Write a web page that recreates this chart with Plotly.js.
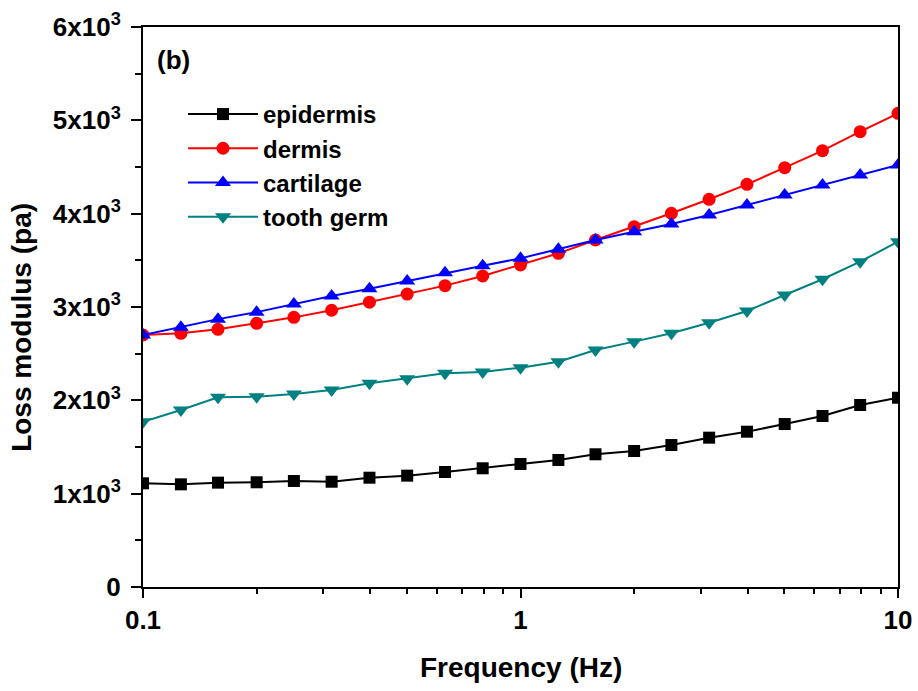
<!DOCTYPE html>
<html>
<head>
<meta charset="utf-8">
<script src="https://cdn.plot.ly/plotly-3.0.1.min.js"></script>
<style>html,body{margin:0;padding:0;background:#fff;}#chart{width:918px;height:691px;}</style>
</head>
<body>
<div id="chart"></div>
<script>
var freq = [0.1, 0.126, 0.158, 0.2, 0.251, 0.316, 0.398, 0.501, 0.631, 0.794, 1, 1.26, 1.58, 2, 2.51, 3.16, 3.98, 5.01, 6.31, 7.94, 10];
var epidermis = [1111, 1100, 1118, 1122, 1136, 1128, 1171, 1193, 1232, 1272, 1318, 1361, 1422, 1457, 1521, 1600, 1664, 1746, 1832, 1950, 2028];
var dermis = [2700, 2718, 2761, 2825, 2889, 2965, 3052, 3139, 3229, 3332, 3450, 3575, 3718, 3861, 4004, 4154, 4314, 4493, 4675, 4879, 5075];
var cartilage = [2700, 2782, 2870, 2945, 3032, 3118, 3196, 3279, 3368, 3443, 3521, 3618, 3718, 3807, 3889, 3986, 4093, 4200, 4307, 4414, 4521];
var toothGerm = [1771, 1896, 2032, 2039, 2068, 2111, 2182, 2232, 2289, 2304, 2350, 2414, 2539, 2629, 2718, 2832, 2957, 3129, 3297, 3486, 3700];

var seriesNames = ["epidermis", "dermis", "cartilage", "tooth germ"];
var yTickVals = [0, 1000, 2000, 3000, 4000, 5000, 6000];
var yTickText = ["0", "1x10<sup>3</sup>", "2x10<sup>3</sup>", "3x10<sup>3</sup>", "4x10<sup>3</sup>", "5x10<sup>3</sup>", "6x10<sup>3</sup>"];
var xTickVals = [0.1, 1, 10];
var xTickText = ["0.1", "1", "10"];
var xTitle = "Frequency (Hz)";
var yTitle = "Loss modulus (pa)";
var panelLabel = "(b)";

var FONT = "Liberation Sans, Arial, Helvetica, sans-serif";

function tr(name, y, color, symbol, size) {
  return {
    x: freq, y: y, name: name, type: "scatter", mode: "lines+markers",
    line: {color: color, width: 2},
    marker: {color: color, symbol: symbol, size: size}
  };
}

var data = [
  tr(seriesNames[0], epidermis, "#000000", "square", 12),
  tr(seriesNames[1], dermis, "#FF0000", "circle", 13),
  tr(seriesNames[2], cartilage, "#0000FF", "triangle-up", 14),
  tr(seriesNames[3], toothGerm, "#008080", "triangle-down", 14)
];

var axisCommon = {
  showline: true, linecolor: "#000", linewidth: 2, mirror: true,
  ticks: "outside", tickcolor: "#000", tickwidth: 2,
  showgrid: false, zeroline: false,
  tickfont: {family: FONT, size: 26, color: "#000", weight: "bold"}
};

var layout = {
  width: 918, height: 691,
  margin: {l: 143, r: 20, t: 27, b: 104},
  paper_bgcolor: "#fff", plot_bgcolor: "#fff",
  showlegend: true,
  font: {family: FONT, color: "#000"},
  xaxis: Object.assign({}, axisCommon, {
    type: "log", range: [-1, 1],
    tickmode: "array", tickvals: xTickVals, ticktext: xTickText,
    ticklen: 9,
    minor: {ticks: "outside", ticklen: 5, tickwidth: 2, tickcolor: "#000", showgrid: false,
            tickvals: [0.2,0.3,0.4,0.5,0.6,0.7,0.8,0.9,2,3,4,5,6,7,8,9]}
  }),
  yaxis: Object.assign({}, axisCommon, {
    range: [0, 6000],
    tickmode: "array", tickvals: yTickVals, ticktext: yTickText,
    ticklen: 10, ticklabelstandoff: 5,
    minor: {ticks: "outside", ticklen: 6, tickwidth: 2, tickcolor: "#000", showgrid: false,
            tickvals: [500,1500,2500,3500,4500,5500]}
  }),
  legend: {
    x: 0.053, y: 0.884, xanchor: "left", yanchor: "top",
    bgcolor: "rgba(0,0,0,0)", borderwidth: 0,
    itemwidth: 70,
    font: {family: FONT, size: 24, color: "#000", weight: "bold"}
  },
  annotations: [{
    xref: "paper", yref: "paper", x: 0.016, y: 0.941, xanchor: "left", yanchor: "middle",
    text: panelLabel, showarrow: false,
    font: {family: FONT, size: 26, color: "#000", weight: "bold"}
  }, {
    xref: "paper", yref: "paper", x: -0.162, y: 0.464, xanchor: "center", yanchor: "middle",
    text: yTitle, showarrow: false, textangle: -90,
    font: {family: FONT, size: 28, color: "#000", weight: "bold"}
  }, {
    xref: "paper", yref: "paper", x: 0.5, y: -0.143, xanchor: "center", yanchor: "middle",
    text: xTitle, showarrow: false,
    font: {family: FONT, size: 28, color: "#000", weight: "bold"}
  }]
};

Plotly.newPlot("chart", data, layout, {displayModeBar: false, staticPlot: true});
</script>
</body>
</html>
